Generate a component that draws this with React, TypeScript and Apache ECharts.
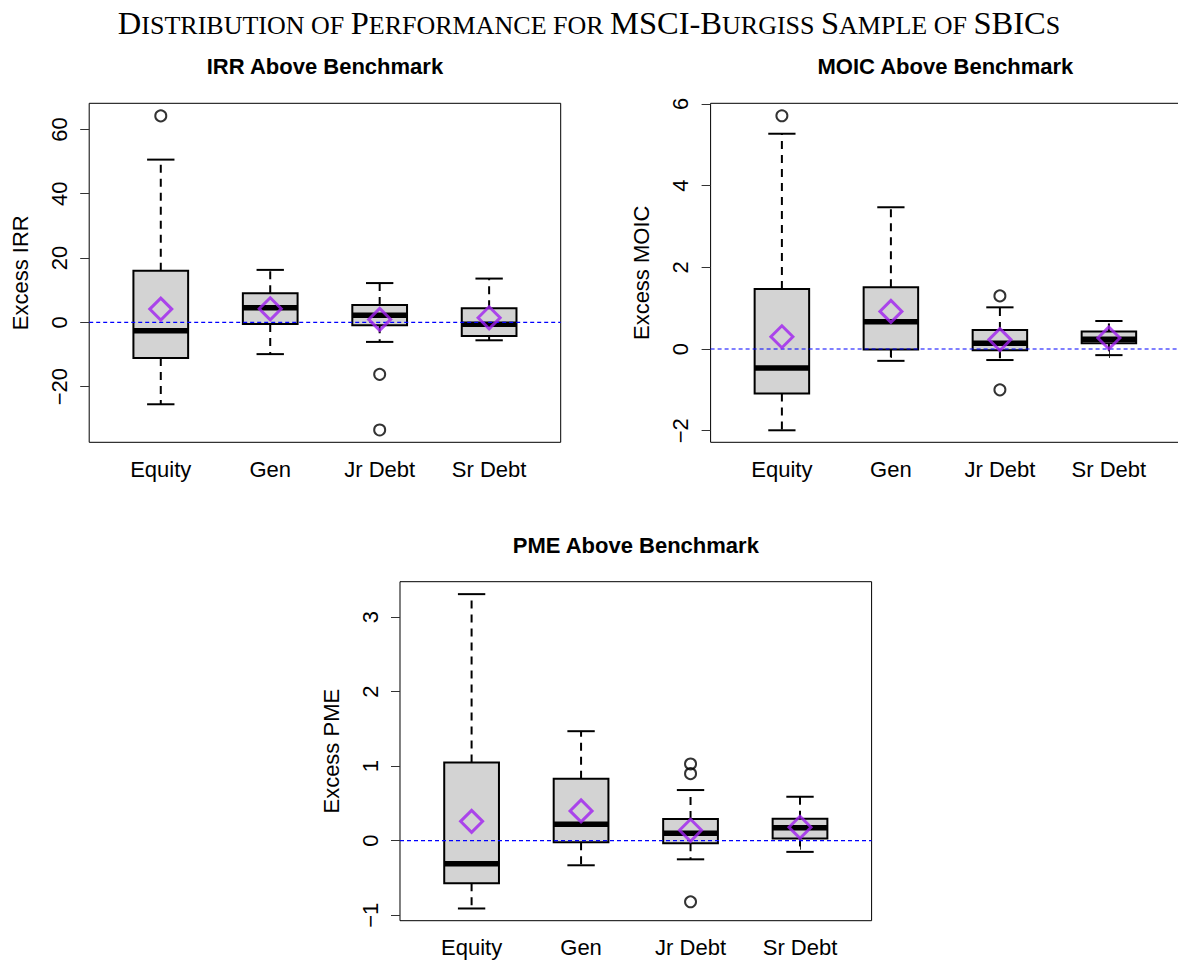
import React, { useEffect, useRef } from 'react';
import * as echarts from 'echarts';

const categories = ['Equity', 'Gen', 'Jr Debt', 'Sr Debt'];

// [lower whisker, Q1, median, Q3, upper whisker]
const irrBoxes = [
  [-25.5, -11.1, -2.6, 16.0, 50.6],
  [-9.9, -0.5, 4.5, 9.0, 16.3],
  [-6.1, -0.9, 2.2, 5.4, 12.2],
  [-5.6, -4.3, -0.6, 4.35, 13.6],
];
const irrMeans = [4.1, 4.2, 0.9, 1.4];
const irrOutliers = [[0, 64.2], [2, -16.2], [2, -33.5]];
const irrTicks = [-20, 0, 20, 40, 60];

const moicBoxes = [
  [-1.99, -1.09, -0.465, 1.47, 5.27],
  [-0.29, -0.01, 0.67, 1.51, 3.47],
  [-0.27, -0.03, 0.14, 0.465, 1.02],
  [-0.15, 0.14, 0.24, 0.43, 0.685],
];
const moicMeans = [0.3, 0.92, 0.23, 0.27];
const moicOutliers = [[0, 5.71], [2, 1.3], [2, -1.0]];
const moicTicks = [-2, 0, 2, 4, 6];

const pmeBoxes = [
  [-0.91, -0.57, -0.31, 1.05, 3.31],
  [-0.33, -0.02, 0.22, 0.83, 1.47],
  [-0.25, -0.035, 0.1, 0.29, 0.68],
  [-0.15, 0.03, 0.175, 0.295, 0.59],
];
const pmeMeans = [0.26, 0.4, 0.14, 0.18];
const pmeOutliers = [[2, 1.03], [2, 0.9], [2, -0.82]];
const pmeTicks = [-1, 0, 1, 2, 3];

const X_MIN = 0.346;
const X_MAX = 4.654;
const FONT = '"Liberation Sans", Arial, Helvetica, sans-serif';

const panels = [
  {
    boxes: irrBoxes, means: irrMeans, outliers: irrOutliers, ticks: irrTicks,
    yMin: -37.33, yMax: 68.12, name: 'Excess IRR', title: 'IRR Above Benchmark',
    grid: { left: 89.2, top: 103.3, width: 471.5, height: 339 }, titleY: 66,
  },
  {
    boxes: moicBoxes, means: moicMeans, outliers: moicOutliers, ticks: moicTicks,
    yMin: -2.284, yMax: 6.015, name: 'Excess MOIC', title: 'MOIC Above Benchmark',
    grid: { left: 710.6, top: 103.3, width: 469.6, height: 339 }, titleY: 66,
  },
  {
    boxes: pmeBoxes, means: pmeMeans, outliers: pmeOutliers, ticks: pmeTicks,
    yMin: -1.074, yMax: 3.477, name: 'Excess PME', title: 'PME Above Benchmark',
    grid: { left: 400, top: 581.7, width: 471.6, height: 339 }, titleY: 545,
  },
];

const fmtNum = (v: number) => (v < 0 ? '\u2212' + Math.abs(v) : String(v));

function boxRenderItem(params: any, api: any) {
  const x = api.value(0);
  const lo = api.coord([x, api.value(1)]);
  const q1 = api.coord([x, api.value(2)]);
  const med = api.coord([x, api.value(3)]);
  const q3 = api.coord([x, api.value(4)]);
  const hi = api.coord([x, api.value(5)]);
  const bw = api.size([0.5, 0])[0];
  const sw = bw / 2;
  const cx = q1[0];
  const black = '#000';
  return {
    type: 'group',
    children: [
      { type: 'line', shape: { x1: cx, y1: q3[1], x2: cx, y2: hi[1] }, style: { stroke: black, lineWidth: 2, lineDash: [8, 6] } },
      { type: 'line', shape: { x1: cx, y1: q1[1], x2: cx, y2: lo[1] }, style: { stroke: black, lineWidth: 2, lineDash: [8, 6] } },
      { type: 'line', shape: { x1: cx - sw / 2, y1: hi[1], x2: cx + sw / 2, y2: hi[1] }, style: { stroke: black, lineWidth: 2 } },
      { type: 'line', shape: { x1: cx - sw / 2, y1: lo[1], x2: cx + sw / 2, y2: lo[1] }, style: { stroke: black, lineWidth: 2 } },
      { type: 'rect', shape: { x: cx - bw / 2, y: q3[1], width: bw, height: q1[1] - q3[1] }, style: { fill: '#d3d3d3', stroke: black, lineWidth: 2 } },
      { type: 'line', shape: { x1: cx - bw / 2, y1: med[1], x2: cx + bw / 2, y2: med[1] }, style: { stroke: black, lineWidth: 5.5 } },
    ],
  };
}

function buildOption() {
  const grid: any[] = [];
  const xAxis: any[] = [];
  const yAxis: any[] = [];
  const series: any[] = [];
  const graphic: any[] = [];

  panels.forEach((p, i) => {
    grid.push({
      ...p.grid,
      show: true,
      borderColor: '#000',
      borderWidth: 1,
      backgroundColor: 'transparent',
      containLabel: false,
      outerBoundsMode: 'none',
    });
    xAxis.push({
      gridIndex: i,
      type: 'value',
      min: X_MIN,
      max: X_MAX,
      axisLine: { show: false },
      splitLine: { show: false },
      axisTick: { show: true, customValues: [1, 2, 3, 4], length: 9, lineStyle: { color: '#333', width: 1 } },
      axisLabel: {
        customValues: [1, 2, 3, 4],
        formatter: (v: number) => categories[Math.round(v) - 1] ?? '',
        fontSize: 22,
        fontFamily: FONT,
        color: '#000',
        margin: 16,
      },
    });
    yAxis.push({
      gridIndex: i,
      type: 'value',
      min: p.yMin,
      max: p.yMax,
      axisLine: { show: false },
      splitLine: { show: false },
      axisTick: { show: true, customValues: p.ticks, length: 9, lineStyle: { color: '#333', width: 1 } },
      axisLabel: {
        customValues: p.ticks,
        formatter: (v: number) => fmtNum(v),
        rotate: 90,
        fontSize: 22,
        fontFamily: FONT,
        color: '#000',
        margin: 19,
      },
      name: p.name,
      nameLocation: 'middle',
      nameGap: 58,
      nameRotate: 90,
      nameTextStyle: { fontSize: 22, fontFamily: FONT, color: '#000' },
    });
    series.push({
      type: 'custom',
      xAxisIndex: i,
      yAxisIndex: i,
      renderItem: boxRenderItem,
      encode: { x: 0, y: [1, 2, 3, 4, 5] },
      data: p.boxes.map((b, k) => [k + 1, ...b]),
      z: 2,
      silent: true,
    });
    series.push({
      type: 'line',
      xAxisIndex: i,
      yAxisIndex: i,
      data: [[X_MIN, 0], [X_MAX, 0]],
      symbol: 'none',
      lineStyle: { color: '#0000ff', width: 1.2, type: [4, 3] },
      z: 3,
      silent: true,
    });
    series.push({
      type: 'scatter',
      xAxisIndex: i,
      yAxisIndex: i,
      data: p.outliers.map(([k, v]) => [k + 1, v]),
      symbol: 'circle',
      symbolSize: 11,
      itemStyle: { color: 'rgba(0,0,0,0)', borderColor: '#000', borderWidth: 2 },
      z: 4,
      silent: true,
    });
    series.push({
      type: 'scatter',
      xAxisIndex: i,
      yAxisIndex: i,
      data: p.means.map((v, k) => [k + 1, v]),
      symbol: 'diamond',
      symbolSize: 22,
      itemStyle: { color: 'rgba(0,0,0,0)', borderColor: '#A020F0', borderWidth: 3 },
      z: 5,
      silent: true,
    });
    graphic.push({
      type: 'text',
      x: p.grid.left + p.grid.width / 2,
      y: p.titleY,
      style: {
        text: p.title,
        fontSize: 22,
        fontWeight: 'bold',
        fontFamily: FONT,
        fill: '#000',
        align: 'center',
        verticalAlign: 'middle',
      },
    });
  });

  const serif = '"Liberation Serif", "Times New Roman", serif';
  graphic.push({
    type: 'text',
    x: 589,
    y: 22,
    style: {
      text:
        '{b|D}{s|ISTRIBUTION OF }{b|P}{s|ERFORMANCE FOR }{b|MSCI-B}{s|URGISS }{b|S}{s|AMPLE OF }{b|SBIC}{s|S}',
      align: 'center',
      verticalAlign: 'middle',
      rich: {
        b: { fontSize: 32.5, fontFamily: serif, fill: '#000', verticalAlign: 'bottom', lineHeight: 34 },
        s: { fontSize: 26, fontFamily: serif, fill: '#000', verticalAlign: 'bottom', lineHeight: 34, padding: [0, 0, 1, 0] },
      },
    },
  });

  return { animation: false, backgroundColor: '#fff', grid, xAxis, yAxis, series, graphic };
}

export default function App() {
  const ref = useRef<HTMLDivElement>(null);
  useEffect(() => {
    if (!ref.current) return;
    const chart = echarts.init(ref.current, undefined, { renderer: 'svg' });
    chart.setOption(buildOption() as any);
    return () => chart.dispose();
  }, []);
  return (
    <div
      ref={ref}
      style={{ position: 'absolute', left: 0, top: 0, width: 1178, height: 962, background: '#fff' }}
    />
  );
}
